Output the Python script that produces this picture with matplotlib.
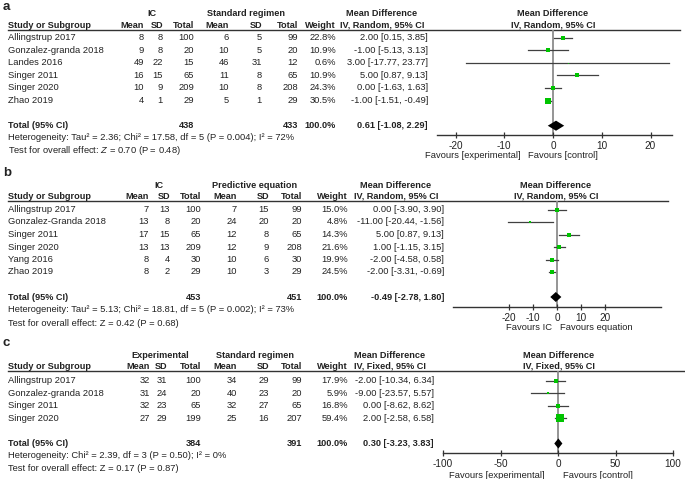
import numpy as np
import matplotlib
matplotlib.use("Agg")
import matplotlib.pyplot as plt

plt.rcParams['font.family'] = ['Liberation Sans', 'DejaVu Sans']
plt.rcParams['mathtext.fontset'] = 'custom'
plt.rcParams['mathtext.rm'] = 'Liberation Sans'
plt.rcParams['mathtext.it'] = 'Liberation Sans:italic'

# ---------------- Data ----------------
# Panel a
a_studies = ["Allingstrup 2017", "Gonzalez-granda 2018", "Landes 2016", "Singer 2011", "Singer 2020", "Zhao 2019"]
a_e_mean = [8, 9, 49, 16, 10, 4]
a_e_sd = [8, 8, 22, 15, 9, 1]
a_e_n = [100, 20, 15, 65, 209, 29]
a_c_mean = [6, 10, 46, 11, 10, 5]
a_c_sd = [5, 5, 31, 8, 8, 1]
a_c_n = [99, 20, 12, 65, 208, 29]
a_weight = [22.8, 10.9, 0.6, 10.9, 24.3, 30.5]
a_md = [2.00, -1.00, 3.00, 5.00, 0.00, -1.00]
a_lo = [0.15, -5.13, -17.77, 0.87, -1.63, -1.51]
a_hi = [3.85, 3.13, 23.77, 9.13, 1.63, -0.49]
a_total = [0.61, -1.08, 2.29]
a_total_n = [438, 433]
a_ticks = [-20, -10, 0, 10, 20]

# Panel b
b_studies = ["Allingstrup 2017", "Gonzalez-Granda 2018", "Singer 2011", "Singer 2020", "Yang 2016", "Zhao 2019"]
b_e_mean = [7, 13, 17, 13, 8, 8]
b_e_sd = [13, 8, 15, 13, 4, 2]
b_e_n = [100, 20, 65, 209, 30, 29]
b_c_mean = [7, 24, 12, 12, 10, 10]
b_c_sd = [15, 20, 8, 9, 6, 3]
b_c_n = [99, 20, 65, 208, 30, 29]
b_weight = [15.0, 4.8, 14.3, 21.6, 19.9, 24.5]
b_md = [0.00, -11.00, 5.00, 1.00, -2.00, -2.00]
b_lo = [-3.90, -20.44, 0.87, -1.15, -4.58, -3.31]
b_hi = [3.90, -1.56, 9.13, 3.15, 0.58, -0.69]
b_total = [-0.49, -2.78, 1.80]
b_total_n = [453, 451]
b_ticks = [-20, -10, 0, 10, 20]

# Panel c
c_studies = ["Allingstrup 2017", "Gonzalez-granda 2018", "Singer 2011", "Singer 2020"]
c_e_mean = [32, 31, 32, 27]
c_e_sd = [31, 24, 23, 29]
c_e_n = [100, 20, 65, 199]
c_c_mean = [34, 40, 32, 25]
c_c_sd = [29, 23, 27, 16]
c_c_n = [99, 20, 65, 207]
c_weight = [17.9, 5.9, 16.8, 59.4]
c_md = [-2.00, -9.00, 0.00, 2.00]
c_lo = [-10.34, -23.57, -8.62, -2.58]
c_hi = [6.34, 5.57, 8.62, 6.58]
c_total = [0.30, -3.23, 3.83]
c_total_n = [384, 391]
c_ticks = [-100, -50, 0, 50, 100]

total_weight = 100.0

# ---------------- Figure ----------------
W, H = 685, 479
fig = plt.figure(figsize=(W / 100, H / 100), dpi=100)
bg = fig.add_axes([0, 0, 1, 1])
bg.set_xlim(0, W)
bg.set_ylim(H, 0)
bg.axis('off')

FS = 6.75
FSB = 6.6
TXT = '#222222'
GREEN = '#00c400'


def t(x, y, s, ha='left', bold=False, size=None, **kw):
    if size is None:
        size = FSB if bold else FS
    bg.text(x, y, s, ha=ha, va='center', fontsize=size,
            fontweight='bold' if bold else 'normal', color=TXT, **kw)


def panel(letter, letter_y, grp1, grp2, grp1_x, grp2_x, md_sub, studies,
          em, esd, en, cm, csd, cn, wt, md, lo, hi, tot, tot_n, ticks,
          L):
    sp = L['sp']
    row0 = L['row0']
    n = len(studies)
    gy = L['hdr_y'] - 11.5
    t(3, letter_y, letter, bold=True, size=9.5)
    t(grp1_x, gy, grp1, ha='center', bold=True)
    t(grp2_x, gy, grp2, ha='center', bold=True)
    t(L['ci_hdr_x'], gy, "Mean Difference", ha='center', bold=True)
    t(L['ci_hdr_x'], L['hdr_y'], md_sub, ha='center', bold=True)
    t(L['fp_hdr_x'], gy, "Mean Difference", ha='center', bold=True)
    t(L['fp_hdr_x'], L['hdr_y'], md_sub, ha='center', bold=True)
    cols = L['cols']
    t(8, L['hdr_y'], "Study or Subgroup", bold=True)
    for xc, lab in zip(cols, ["Mean", "SD", "Total", "Mean", "SD", "Total", "Weight"]):
        t(xc, L['hdr_y'], lab, ha='right', bold=True)
    bg.plot([8, L['line_x1']], [L['line_y'], L['line_y']], color='#333333', lw=1.0)
    for i in range(n):
        y = row0 + i * sp
        t(8, y, studies[i])
        vals = [em[i], esd[i], en[i], cm[i], csd[i], cn[i]]
        for xc, v in zip(cols[:6], vals):
            t(xc, y, f"{v}", ha='right')
        t(cols[6], y, f"{wt[i]:.1f}%", ha='right')
        t(L['ci_x'], y, f"{md[i]:.2f} [{lo[i]:.2f}, {hi[i]:.2f}]", ha='right')
    yt = row0 + (n + 1) * sp
    t(8, yt, "Total (95% CI)", bold=True)
    t(cols[2], yt, f"{tot_n[0]}", ha='right', bold=True)
    t(cols[5], yt, f"{tot_n[1]}", ha='right', bold=True)
    t(cols[6], yt, f"{total_weight:.1f}%", ha='right', bold=True)
    t(L['ci_x'], yt, f"{tot[0]:.2f} [{tot[1]:.2f}, {tot[2]:.2f}]", ha='right', bold=True)
    t(8, L['het_y'], L['het'])
    t(8, L['het_y'] + L['test_dy'], L['test'])
    t(L['fav_l'], L['fav_y'], L['fav_left'], ha='right')
    t(L['fav_r'], L['fav_y'], L['fav_right'], ha='left')

    # forest plot axes
    x0, x1 = L['ax_x']
    top, bot = L['line_y'], L['axis_y']
    ax = fig.add_axes([x0 / W, 1 - bot / H, (x1 - x0) / W, (bot - top) / H])
    ax.set_facecolor('none')
    ax.set_xlim(*L['xlim'])
    ax.set_ylim((bot - row0) / sp, (top - row0) / sp)
    for s in ['top', 'right', 'left']:
        ax.spines[s].set_visible(False)
    ax.spines['bottom'].set_color('#333333')
    ax.spines['bottom'].set_linewidth(1.0)
    ax.set_yticks([])
    ax.set_xticks(ticks)
    ax.set_xticklabels([f"{v}" for v in ticks])
    ax.tick_params(axis='x', direction='inout', length=5, width=0.9, colors='#333333',
                   labelsize=7.2, labelcolor=TXT, pad=1.5)
    ax.axvline(0, color='#8c8c8c', lw=1.3, zorder=1)
    for i in range(n):
        ax.plot([lo[i], hi[i]], [i, i], color='#404040', lw=0.9, zorder=2, clip_on=False)
        ax.plot(md[i], i, marker='s', ms=np.sqrt(wt[i]) * 0.72, color=GREEN,
                mec=GREEN, mew=0, zorder=3, clip_on=False)
    h = 0.4
    ax.fill([tot[1], tot[0], tot[2], tot[0]], [n + 1, n + 1 - h, n + 1, n + 1 + h],
            color='black', zorder=4, lw=0)


panel("a", 7, "IC", "Standard regimen", 152, 246, "IV, Random, 95% CI", a_studies,
      a_e_mean, a_e_sd, a_e_n, a_c_mean, a_c_sd, a_c_n, a_weight, a_md, a_lo, a_hi,
      a_total, a_total_n, a_ticks,
      dict(sp=12.6, row0=37.5, hdr_y=25, line_y=29.5, line_x1=680,
           cols=[144, 163, 194, 229, 262, 298, 336], ci_x=428, ci_hdr_x=382, fp_hdr_x=553,
           het_y=138, test_dy=12.5,
           het="Heterogeneity: Tau² = 2.36; Chi² = 17.58, df = 5 (P = 0.004); I² = 72%",
           test="Test for overall effect: $\\mathit{Z}$ = 0.70 (P = 0.48)",
           fav_l=521, fav_r=528, fav_y=156, fav_left="Favours [experimental]",
           fav_right="Favours [control]", ax_x=(437, 672), axis_y=135, xlim=(-23.8, 24.4)))

panel("b", 173, "IC", "Predictive equation", 159, 255, "IV, Random, 95% CI", b_studies,
      b_e_mean, b_e_sd, b_e_n, b_c_mean, b_c_sd, b_c_n, b_weight, b_md, b_lo, b_hi,
      b_total, b_total_n, b_ticks,
      dict(sp=12.5, row0=209.5, hdr_y=196.5, line_y=201, line_x1=668,
           cols=[149, 170, 201, 237, 269, 302, 348], ci_x=444, ci_hdr_x=396, fp_hdr_x=556,
           het_y=309.5, test_dy=13.5,
           het="Heterogeneity: Tau² = 5.13; Chi² = 18.81, df = 5 (P = 0.002); I² = 73%",
           test="Test for overall effect: Z = 0.42 (P = 0.68)",
           fav_l=552, fav_r=560, fav_y=327, fav_left="Favours IC",
           fav_right="Favours equation", ax_x=(453, 661), axis_y=307, xlim=(-43, 43)))

panel("c", 343, "Experimental", "Standard regimen", 160, 255, "IV, Fixed, 95% CI", c_studies,
      c_e_mean, c_e_sd, c_e_n, c_c_mean, c_c_sd, c_c_n, c_weight, c_md, c_lo, c_hi,
      c_total, c_total_n, c_ticks,
      dict(sp=12.6, row0=380.5, hdr_y=366.5, line_y=371, line_x1=685,
           cols=[150, 167, 201, 237, 269, 302, 348], ci_x=434, ci_hdr_x=390, fp_hdr_x=559,
           het_y=456, test_dy=12.5,
           het="Heterogeneity: Chi² = 2.39, df = 3 (P = 0.50); I² = 0%",
           test="Test for overall effect: Z = 0.17 (P = 0.87)",
           fav_l=545, fav_r=563, fav_y=475, fav_left="Favours [experimental]",
           fav_right="Favours [control]", ax_x=(443, 673), axis_y=453, xlim=(-100, 100)))

fig.savefig("out.png", dpi=100)
